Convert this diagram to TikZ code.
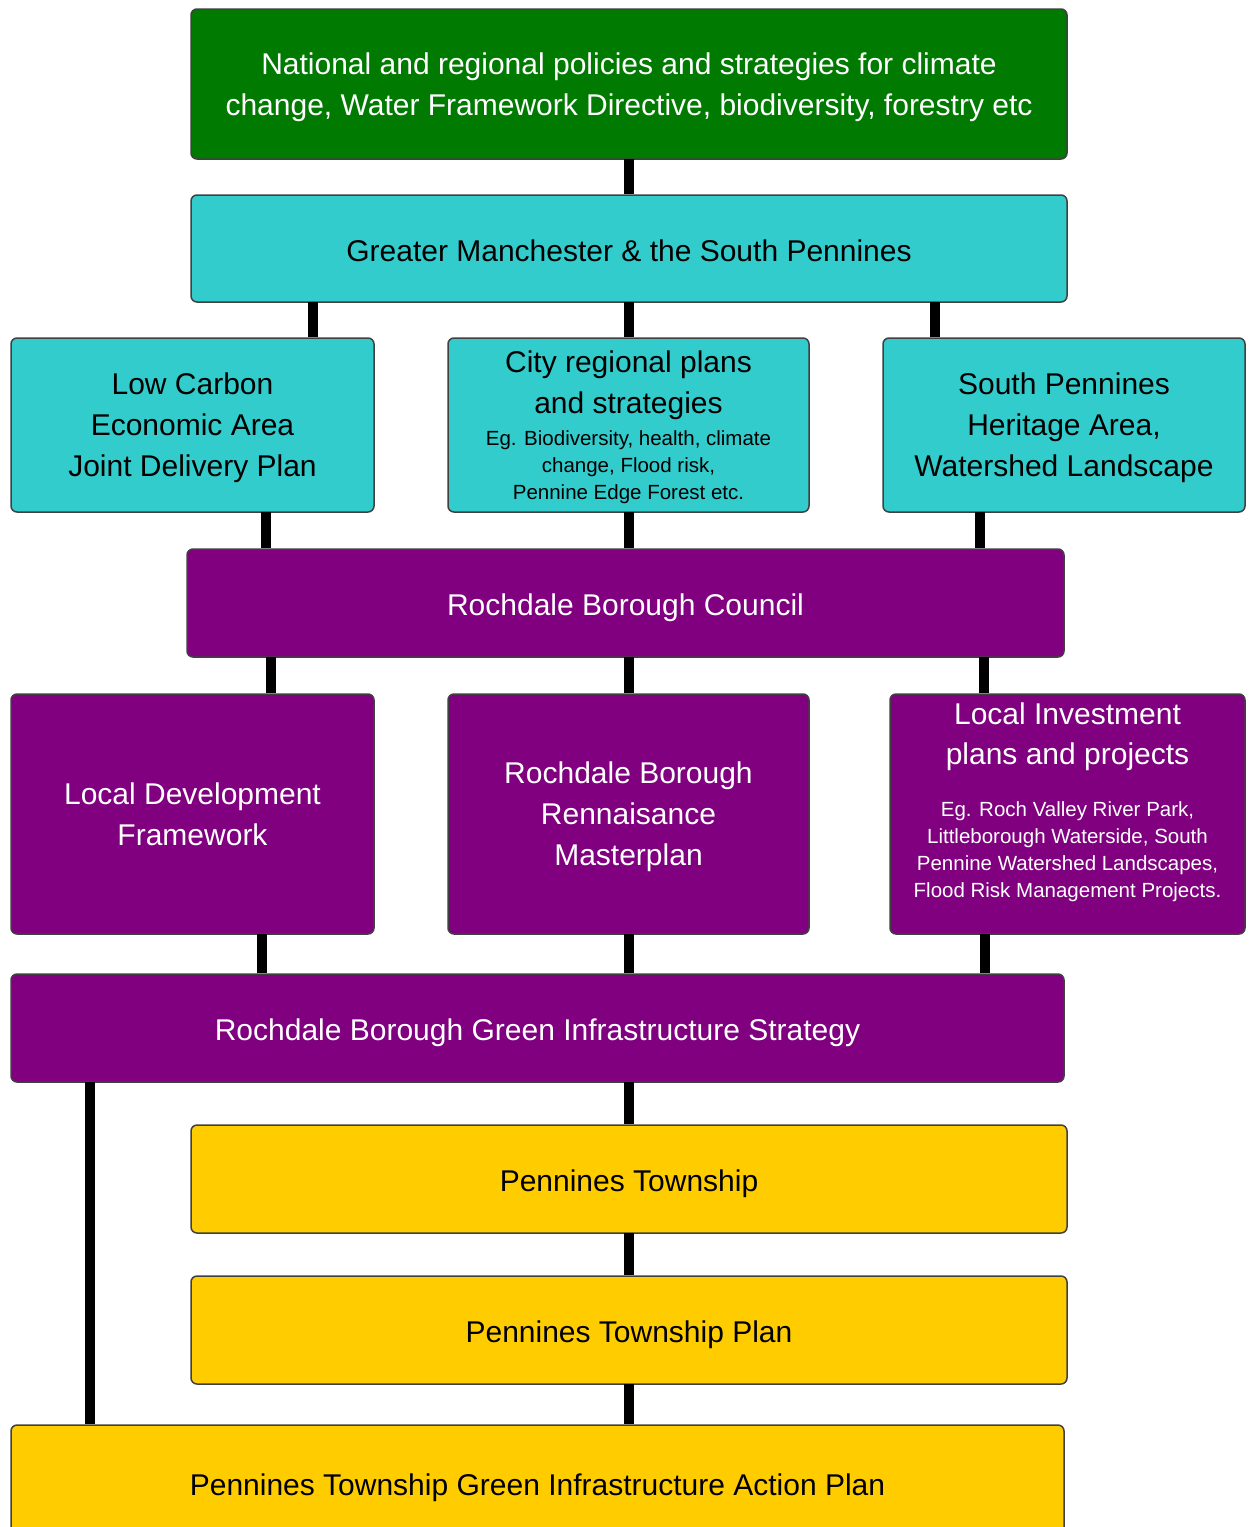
\documentclass[tikz,border=0pt]{standalone}
\usepackage{fontspec}
\setmainfont{Liberation Sans}
\definecolor{cgreen}{RGB}{0,122,0}
\definecolor{ccyan}{RGB}{51,204,204}
\definecolor{cpurple}{RGB}{128,0,128}
\definecolor{cyellow}{RGB}{255,204,0}
\newcommand{\bigf}{\fontsize{30}{41}\selectfont}
\newcommand{\smallf}{\fontsize{20.5}{27}\selectfont}
\begin{document}
\begin{tikzpicture}[x=1pt,y=-1pt,
  box/.style={draw=black!75, line width=1.5pt, rounded corners=6pt, align=center, inner sep=0pt},
  oneline/.style={text height=25pt, text depth=0pt},
  multiline/.style={text depth=-2pt},
  greenbox/.style={box, fill=cgreen, text=white},
  cyanbox/.style={box, fill=ccyan, text=black},
  purplebox/.style={box, fill=cpurple, text=white},
  yellowbox/.style={box, fill=cyellow, text=black},
  conn/.style={line width=10pt, black}]
\useasboundingbox (0,0) rectangle (1253,1527);
\begin{scope}
\clip (0,0) rectangle (1253,1527);
\coordinate (c1) at (629,159);
\coordinate (g1) at (313,302);
\coordinate (g2) at (629,302);
\coordinate (g3) at (935,302);
\coordinate (l1) at (266,512);
\coordinate (l2) at (629,512);
\coordinate (l3) at (980,512);
\coordinate (r1) at (271,657);
\coordinate (r2) at (629,657);
\coordinate (r3) at (984,657);
\coordinate (m1) at (262,934);
\coordinate (m2) at (629,934);
\coordinate (m3) at (985,934);
\coordinate (s1) at (629,1082);
\coordinate (s2) at (90,1082);
\coordinate (p1) at (629,1233);
\coordinate (p2) at (629,1384);

\node[greenbox, multiline, font=\bigf, minimum width=876pt, minimum height=150pt] (nat) at (629,84)
  {National and regional policies and strategies for climate\\change, Water Framework Directive, biodiversity, forestry etc};
\node[cyanbox, oneline, font=\bigf, minimum width=876pt, minimum height=107pt] (gm) at (629,248.5)
  {Greater Manchester \& the South Pennines};
\node[cyanbox, multiline, font=\bigf, minimum width=363pt, minimum height=174pt] (lc) at (192.5,425)
  {Low Carbon\\Economic Area\\Joint Delivery Plan};
\node[cyanbox, text depth=-9pt, font=\smallf, minimum width=361pt, minimum height=174pt] (cr) at (628.5,425)
  {\bigf City regional plans\\[12pt]\bigf and strategies\\[5pt]Eg. Biodiversity, health, climate\\change, Flood risk,\\Pennine Edge Forest etc.};
\node[cyanbox, multiline, font=\bigf, minimum width=362pt, minimum height=174pt] (sp) at (1064,425)
  {South Pennines\\Heritage Area,\\Watershed Landscape};
\node[purplebox, oneline, font=\bigf, minimum width=877pt, minimum height=108pt] (rbc) at (625.5,603)
  {Rochdale Borough Council};
\node[purplebox, multiline, font=\bigf, minimum width=363pt, minimum height=240pt] (ldf) at (192.5,814)
  {Local Development\\Framework};
\node[purplebox, multiline, font=\bigf, minimum width=361pt, minimum height=240pt] (rbr) at (628.5,814)
  {Rochdale Borough\\Rennaisance\\Masterplan};
\node[purplebox, minimum width=355pt, minimum height=240pt] (li) at (1067.5,814) {};
\node[align=center, text=white, inner sep=0pt, font=\smallf] (litext) at ([yshift=11.5pt]li.center)
  {\bigf Local Investment\\[13pt]\bigf plans and projects\\[25pt]Eg. Roch Valley River Park,\\Littleborough Waterside, South\\Pennine Watershed Landscapes,\\Flood Risk Management Projects.};
\node[purplebox, oneline, font=\bigf, minimum width=1053pt, minimum height=108pt] (gis) at (537.5,1028)
  {Rochdale Borough Green Infrastructure Strategy};
\node[yellowbox, oneline, font=\bigf, minimum width=876pt, minimum height=108pt] (pt) at (629,1179)
  {Pennines Township};
\node[yellowbox, oneline, font=\bigf, minimum width=876pt, minimum height=108pt] (ptp) at (629,1330)
  {Pennines Township Plan};
\node[yellowbox, oneline, font=\bigf, minimum width=1053pt, minimum height=115pt] (ap) at (537.5,1482.5)
  {Pennines Township Green Infrastructure Action Plan};

\draw[conn] (c1) -- (c1 |- gm.north);
\draw[conn] (g1) -- (g1 |- lc.north);
\draw[conn] (g2) -- (g2 |- cr.north);
\draw[conn] (g3) -- (g3 |- sp.north);
\draw[conn] (l1) -- (l1 |- rbc.north);
\draw[conn] (l2) -- (l2 |- rbc.north);
\draw[conn] (l3) -- (l3 |- rbc.north);
\draw[conn] (r1) -- (r1 |- ldf.north);
\draw[conn] (r2) -- (r2 |- rbr.north);
\draw[conn] (r3) -- (r3 |- li.north);
\draw[conn] (m1) -- (m1 |- gis.north);
\draw[conn] (m2) -- (m2 |- gis.north);
\draw[conn] (m3) -- (m3 |- gis.north);
\draw[conn] (s1) -- (s1 |- pt.north);
\draw[conn] (s2) -- (s2 |- ap.north);
\draw[conn] (p1) -- (p1 |- ptp.north);
\draw[conn] (p2) -- (p2 |- ap.north);
\end{scope}
\end{tikzpicture}
\end{document}
